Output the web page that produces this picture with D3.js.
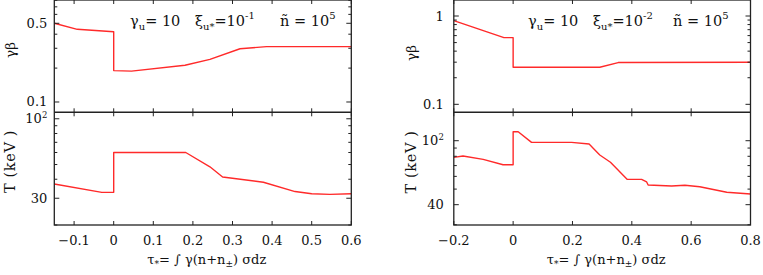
<!DOCTYPE html>
<html><head><meta charset="utf-8">
<script src="https://cdn.jsdelivr.net/npm/d3@7"></script>
<style>html,body{margin:0;padding:0;background:#fff}svg{display:block}</style>
</head><body><svg id="c" width="763" height="275" font-family="DejaVu Serif, serif"></svg>
<script>
// ---- data ----
const tauL_gb = [-0.15,-0.092,0,0,0.045,0.18,0.243,0.319,0.386,0.6];
const gbL     = [0.50,0.442,0.421,0.190,0.188,0.212,0.239,0.297,0.31,0.31];
const tauL_T  = [-0.15,-0.03,0,0,0.182,0.243,0.275,0.378,0.458,0.5,0.546,0.6];
const TL      = [37.2,32.8,32.8,60,60,48.3,41.4,38.2,33.2,32.1,31.8,32.1];
const tauR_gb = [-0.2,-0.031,0,0,0.292,0.354,0.8];
const gbR     = [0.885,0.569,0.569,0.263,0.263,0.297,0.30];
const tauR_T  = [-0.2,-0.169,-0.101,-0.034,0,0,0.017,0.062,0.197,0.256,0.292,0.328,0.384,0.433,0.45,0.455,0.534,0.579,0.629,0.72,0.8];
const TR      = [78.8,80.3,76.6,70.9,70.9,113.8,113.8,97.7,97.7,95.4,81.5,73.4,57.5,57.5,55.4,53.0,52.3,52.8,51.7,47.8,46.6];
const xTicksL = [-0.1,0,0.1,0.2,0.3,0.4,0.5,0.6];
const xTicksR = [-0.2,0,0.2,0.4,0.6,0.8];
const gbTicksL = [0.1,0.2,0.3,0.4,0.5,0.6,0.7,0.8];
const gbLabelsL = [{v:0.5,t:"0.5"},{v:0.1,t:"0.1"}];
const TTicksL = [20,30,40,50,60,70,80,90,100];
const TLabelsL = [{v:100,t:"10",sup:"2"},{v:30,t:"30"}];
const gbTicksR = [0.1,0.2,0.3,0.4,0.5,0.6,0.7,0.8,0.9,1];
const gbLabelsR = [{v:1,t:"1"},{v:0.1,t:"0.1"}];
const TTicksR = [30,40,50,60,70,80,90,100];
const TLabelsR = [{v:100,t:"10",sup:"2"},{v:40,t:"40"}];

const svg = d3.select("#c");
const fmt = v => (v<0?"\u2212":"") + (v===0?"0":String(Math.abs(v)));

function panel(o){
  const x = d3.scaleLinear().domain(o.xdom).range([o.x0,o.x1]);
  const yT = d3.scaleLog().domain(o.gbdom).range([112.3,0]);
  const yB = d3.scaleLog().domain(o.Tdom).range([225,112.3]);
  const g = svg.append("g").attr("fill","#111");
  const id = "clip"+o.name;
  svg.append("clipPath").attr("id",id).append("rect").attr("x",o.x0).attr("y",0).attr("width",o.x1-o.x0).attr("height",225);
  const line = d3.line().x(d=>x(d[0])).y(d=>d[2](d[1]));
  g.append("path").attr("clip-path",`url(#${id})`).attr("d",line(o.gbx.map((t,i)=>[t,o.gby[i],yT])))
    .attr("fill","none").attr("stroke","#ff2a2a").attr("stroke-width",1.4).attr("stroke-linejoin","round");
  g.append("path").attr("clip-path",`url(#${id})`).attr("d",line(o.Tx.map((t,i)=>[t,o.Ty[i],yB])))
    .attr("fill","none").attr("stroke","#ff2a2a").attr("stroke-width",1.4).attr("stroke-linejoin","round");
  const st = "#222";
  g.append("rect").attr("x",o.x0).attr("y",0).attr("width",o.x1-o.x0).attr("height",225).attr("fill","none").attr("stroke",st).attr("stroke-width",1.3);
  g.append("line").attr("x1",o.x0).attr("x2",o.x1).attr("y1",112.3).attr("y2",112.3).attr("stroke",st).attr("stroke-width",1.5);
  o.xticks.forEach(v=>{
    const px = x(v);
    [[0,4],[108.3,116.3],[221,225]].forEach(([a,b])=>g.append("line").attr("x1",px).attr("x2",px).attr("y1",a).attr("y2",b).attr("stroke",st).attr("stroke-width",1));
    g.append("text").attr("x",px).attr("y",245).attr("text-anchor","middle").attr("font-size",13).text(fmt(v));
  });
  const yt = (sc,ticks,labels)=>{
    ticks.forEach(v=>{
      const py = sc(v); if(py<0||py>225) return;
      const major = labels.some(l=>l.v===v);
      const L = major?5:3;
      g.append("line").attr("x1",o.x0).attr("x2",o.x0+L).attr("y1",py).attr("y2",py).attr("stroke",st).attr("stroke-width",1);
      g.append("line").attr("x1",o.x1-L).attr("x2",o.x1).attr("y1",py).attr("y2",py).attr("stroke",st).attr("stroke-width",1);
    });
    labels.forEach(l=>{
      const t = g.append("text").attr("x",o.x0-o.lgap).attr("y",sc(l.v)+4.5).attr("text-anchor","end").attr("font-size",13);
      t.append("tspan").text(l.t);
      if(l.sup) t.append("tspan").attr("dy",-5.5).attr("font-size",8.5).text(l.sup);
    });
  };
  yt(yT,o.gbticks,o.gblabels);
  yt(yB,o.Tticks,o.Tlabels);
  g.append("text").attr("transform",`translate(${o.tx},${o.gbyc}) rotate(-90)`).attr("text-anchor","middle").attr("font-size",13.5).text("\u03b3\u03b2");
  g.append("text").attr("transform",`translate(${o.tx},${o.Tyc}) rotate(-90)`).attr("text-anchor","middle").attr("font-size",14.5).attr("letter-spacing",0.6).text("T (keV )");
  const xt = g.append("text").attr("x",(o.x0+o.x1)/2+4).attr("y",264).attr("text-anchor","middle").attr("font-size",13);
  xt.append("tspan").text("\u03c4");
  xt.append("tspan").attr("dy",3).attr("font-size",9).text("*");
  xt.append("tspan").attr("dy",-3).text("=  \u222b  \u03b3(n+n");
  xt.append("tspan").attr("dy",3).attr("font-size",9).text("\u00b1");
  xt.append("tspan").attr("dy",-3).text(") \u03c3dz");
  const fs = 14.5, fss = 10;
  const a = g.append("text").attr("y",26).attr("font-size",fs);
  a.append("tspan").attr("x",o.ax[0]).text("\u03b3");
  a.append("tspan").attr("dy",4).attr("font-size",fss).text("u");
  a.append("tspan").attr("dy",-4).text("= 10");
  const b = g.append("text").attr("y",26).attr("font-size",fs);
  b.append("tspan").attr("x",o.ax[1]).text("\u03be");
  b.append("tspan").attr("dy",4).attr("font-size",fss).text("u*");
  b.append("tspan").attr("dy",-4).text("=10");
  b.append("tspan").attr("dy",-7).attr("font-size",fss).text(o.xiexp);
  const c = g.append("text").attr("y",26).attr("font-size",fs);
  c.append("tspan").attr("x",o.ax[2]).text("\u00f1 = 10");
  c.append("tspan").attr("dy",-7).attr("font-size",fss).text("5");
}

panel({name:"L",x0:54.3,x1:351.3,xdom:[-0.15,0.6],gbdom:[0.081,0.805],Tdom:[20,110.3],
  gbx:tauL_gb,gby:gbL,Tx:tauL_T,Ty:TL,xticks:xTicksL,gbticks:gbTicksL,gblabels:gbLabelsL,
  Tticks:TTicksL,Tlabels:TLabelsL,lgap:7,tx:15,gbyc:50,Tyc:161.5,ax:[130,195,280],xiexp:"-1"});
panel({name:"R",x0:453.8,x1:750.5,xdom:[-0.2,0.8],gbdom:[0.0812,1.518],Tdom:[29.9,150.2],
  gbx:tauR_gb,gby:gbR,Tx:tauR_T,Ty:TR,xticks:xTicksR,gbticks:gbTicksR,gblabels:gbLabelsR,
  Tticks:TTicksR,Tlabels:TLabelsR,lgap:10,tx:416,gbyc:53,Tyc:162,ax:[528,593,673],xiexp:"-2"});
</script></body></html>
